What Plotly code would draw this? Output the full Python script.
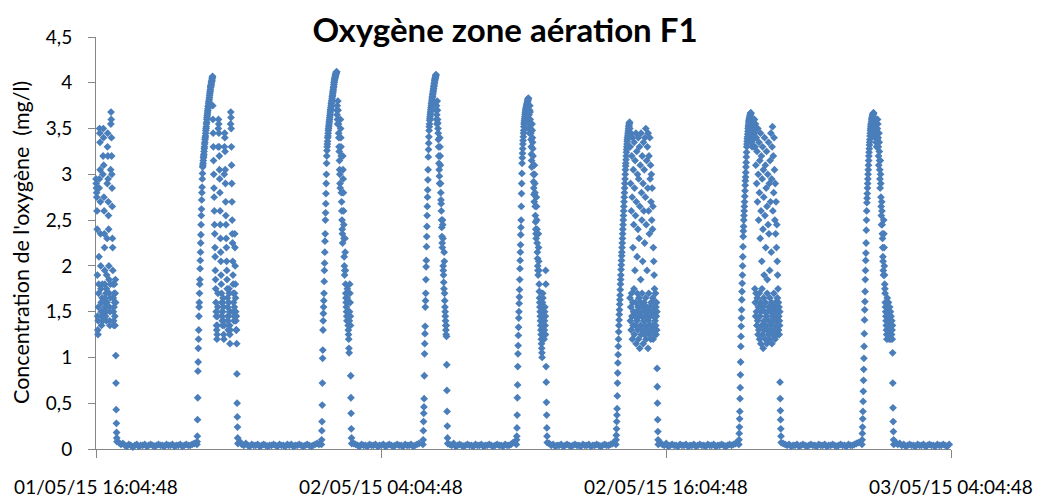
import pandas as pd
import plotly.graph_objects as go

# ---------------- data ----------------
start_time = pd.Timestamp("2015-05-01 16:04:48")
end_time = pd.Timestamp("2015-05-03 04:04:48")

x_tick_times = ["2015-05-01 16:04:48", "2015-05-02 04:04:48",
                "2015-05-02 16:04:48", "2015-05-03 04:04:48"]
x_tick_labels = ["01/05/15 16:04:48", "02/05/15 04:04:48",
                 "02/05/15 16:04:48", "03/05/15 04:04:48"]
y_tick_values = [0, 0.5, 1, 1.5, 2, 2.5, 3, 3.5, 4, 4.5]
y_tick_labels = ["0", "0,5", "1", "1,5", "2", "2,5", "3", "3,5", "4", "4,5"]

# start of each aeration phase (minutes after start_time); 30-second samples
aeration_start_min = [0, 255, 569.5, 826, 1062, 1313.5, 1624, 1935]
aeration_step_min = 0.5
idle_step_min = 5

c0 = [2.95, 2.9, 2.85, 2.8, 2.75, 2.6, 2.4, 1.9, 1.45, 1.3,
      1.25, 1.4, 1.55, 1.7, 1.8, 2.1, 2.85, 2.95, 3.5, 3.45,
      3.35, 3.05, 2.7, 2.35, 2.0, 1.75, 1.6, 1.5, 1.35, 1.45,
      1.6, 1.65, 1.8, 1.5, 1.4, 3.0, 3.2, 3.5, 3.4, 3.1,
      2.75, 2.6, 2.35, 2.2, 1.95, 1.8, 1.65, 1.55, 1.45, 1.6,
      1.7, 1.5, 1.4, 1.75, 1.9, 1.6, 2.3, 2.9, 3.3, 3.45,
      3.2, 2.95, 2.7, 2.55, 2.4, 2.0, 1.85, 1.7, 1.55, 1.4,
      1.35, 1.5, 1.65, 1.8, 3.05, 3.55, 3.68, 3.6, 3.4, 3.2,
      3.0, 2.85, 2.65, 2.3, 2.2, 1.95, 1.8, 1.65, 1.5, 1.4,
      1.35, 1.55, 1.7, 1.8, 1.6, 1.45, 1.35, 1.7, 1.85, 1.6,
      1.02, 0.72, 0.43, 0.28, 0.18, 0.12, 0.08]
c1 = [0.05, 0.08, 0.14, 0.32, 0.56, 0.85, 0.95, 1.1, 1.2, 1.3,
      1.45, 1.55, 1.6, 1.7, 1.8, 1.85, 1.97, 2.06, 2.15, 2.25,
      2.34, 2.45, 2.55, 2.62, 2.72, 2.8, 2.86, 2.95, 3.01, 3.08,
      3.1, 3.12, 3.15, 3.18, 3.2, 3.22, 3.25, 3.28, 3.3, 3.33,
      3.35, 3.38, 3.4, 3.42, 3.45, 3.48, 3.5, 3.52, 3.55, 3.57,
      3.6, 3.62, 3.64, 3.66, 3.68, 3.7, 3.72, 3.74, 3.75, 3.77,
      3.79, 3.8, 3.82, 3.84, 3.86, 3.88, 3.9, 3.91, 3.93, 3.95,
      3.96, 3.97, 3.98, 4.0, 4.01, 4.02, 4.03, 4.05, 4.06, 4.07,
      3.75, 3.6, 3.45, 3.3, 3.15, 3.0, 2.85, 2.75, 2.6, 2.45,
      2.35, 2.2, 2.1, 1.95, 1.85, 1.75, 1.6, 1.5, 1.45, 1.35,
      1.3, 1.2, 1.25, 1.35, 1.45, 1.55, 1.7, 3.3, 3.5, 3.6,
      3.55, 3.45, 3.3, 3.2, 3.05, 2.95, 2.8, 2.6, 2.45, 2.3,
      2.15, 2.05, 1.9, 1.8, 1.7, 1.6, 1.5, 1.45, 1.4, 1.35,
      1.5, 1.6, 1.65, 1.55, 1.4, 1.25, 1.2, 1.35, 3.0, 3.3,
      3.45, 3.4, 3.25, 3.05, 2.9, 2.7, 2.55, 2.45, 2.3, 2.2,
      2.05, 1.95, 1.85, 1.75, 1.65, 1.55, 1.45, 1.4, 1.3, 1.35,
      1.45, 1.6, 1.75, 1.7, 1.5, 1.35, 1.25, 1.15, 1.3, 1.5,
      3.55, 3.68, 3.62, 3.5, 3.3, 3.1, 2.9, 2.7, 2.5, 2.35,
      2.25, 2.05, 1.9, 1.8, 1.7, 1.6, 1.5, 1.4, 1.45, 1.55,
      1.7, 2.35, 2.2, 2.0, 1.8, 1.65, 1.5, 1.4, 1.3, 1.45,
      1.3, 1.15, 0.82, 0.5, 0.35, 0.24, 0.12, 0.06]
c2 = [0.05, 0.1, 0.2, 0.3, 0.48, 0.72, 0.99, 1.08, 1.3, 1.4,
      1.48, 1.55, 1.62, 1.7, 1.83, 1.95, 2.03, 2.15, 2.27, 2.35,
      2.5, 2.58, 2.68, 2.79, 2.9, 3.0, 3.12, 3.2,
      3.26, 3.3, 3.33, 3.36, 3.4, 3.42, 3.45, 3.48, 3.5, 3.52,
      3.54, 3.56, 3.58, 3.6, 3.62, 3.64, 3.66, 3.68, 3.7, 3.71,
      3.73, 3.75, 3.77, 3.78, 3.8, 3.81, 3.83, 3.85, 3.86, 3.88,
      3.9, 3.91, 3.93, 3.95, 3.96, 3.98, 4.0, 4.01, 4.03, 4.04,
      4.05, 4.06, 4.07, 4.08, 4.09, 4.1, 4.1, 4.11, 4.12, 4.12,
      3.7, 3.65, 3.75, 3.6, 3.55,
      3.8, 3.7, 3.6, 3.55, 3.45, 3.4, 3.3, 3.25, 3.15, 3.05,
      3.0, 2.9, 2.85, 3.6, 3.5, 3.4, 3.3, 3.2, 2.8, 2.7,
      2.6, 2.5, 2.4, 2.35, 2.25, 3.2, 3.05, 2.95, 2.8, 2.6,
      2.45, 2.3, 2.1, 2.0, 1.9, 1.95, 2.3, 2.15, 1.95, 1.8,
      1.7, 1.65, 1.6, 1.55, 1.5, 1.45, 1.4, 1.65, 1.75, 1.6,
      1.5, 1.4, 1.35, 1.3, 1.25, 1.2, 1.1, 1.05, 1.4, 1.5,
      1.8, 1.7, 1.6, 1.45, 1.35,
      0.8, 0.56, 0.39, 0.22, 0.12, 0.06]
c3 = [0.05, 0.1, 0.2, 0.3, 0.39, 0.46, 0.55, 0.8, 1.04, 1.15,
      1.26, 1.34, 1.55, 1.62, 1.7, 1.85, 1.99, 2.06, 2.21, 2.32,
      2.43, 2.55, 2.65, 2.75, 2.83, 2.94, 3.05, 3.19, 3.27, 3.34,
      3.41, 3.48,
      3.52, 3.55, 3.59, 3.61, 3.63, 3.65, 3.67, 3.69, 3.71, 3.73,
      3.75, 3.77, 3.78, 3.8, 3.82, 3.84, 3.85, 3.87, 3.88, 3.9,
      3.91, 3.93, 3.94, 3.96, 3.97, 3.99, 4.0, 4.02, 4.03, 4.04,
      4.05, 4.06, 4.07, 4.08, 4.09, 3.7, 3.6, 3.75, 3.65, 3.55,
      3.8, 3.7, 3.6, 3.56, 3.5, 3.45, 3.38, 3.3, 3.2, 3.12,
      3.05, 2.98, 2.9, 3.4, 3.3, 3.2, 3.1, 2.9, 2.8, 2.72,
      2.68, 2.6, 2.5, 2.42, 2.32, 2.25, 2.2, 2.5, 2.45, 2.3,
      2.0, 1.95, 1.9, 1.82, 1.75, 2.15, 2.05, 1.7, 1.62, 1.55,
      1.5, 1.45, 1.4, 1.35, 1.3, 1.25, 1.35, 1.23,
      0.92, 0.64, 0.41, 0.25, 0.12, 0.06]
c4 = [0.05, 0.1, 0.14, 0.23, 0.37, 0.56, 0.7, 0.9, 1.04, 1.13,
      1.24, 1.33, 1.43, 1.5, 1.59, 1.66, 1.74, 1.85, 1.97, 2.06,
      2.15, 2.23, 2.34, 2.42, 2.5, 2.65, 2.79, 2.9, 3.01, 3.12,
      3.18, 3.23, 3.28, 3.33, 3.37, 3.41, 3.45, 3.48, 3.52, 3.55,
      3.57, 3.59, 3.61, 3.63, 3.65, 3.67, 3.68, 3.7, 3.71, 3.72,
      3.73, 3.74, 3.75, 3.76, 3.77, 3.78, 3.79, 3.8, 3.81, 3.82,
      3.83, 3.83, 3.6, 3.5, 3.65, 3.55, 3.45, 3.7,
      3.75, 3.68, 3.6, 3.55, 3.5, 3.45, 3.38, 3.3, 3.22, 3.15,
      3.08, 3.55, 3.48, 3.4, 3.35, 3.28, 3.2, 3.1, 3.0, 2.92,
      2.85, 2.78, 2.7, 3.1, 3.0, 2.9, 2.8, 2.65, 2.55, 2.48,
      2.4, 2.35, 2.3, 2.75, 2.65, 2.5, 2.4, 2.25, 2.15, 2.08,
      2.0, 1.95, 1.9, 2.35, 2.2, 2.05, 1.95, 1.8, 1.72, 1.65,
      1.6, 1.55, 1.5, 1.45, 1.4, 1.35, 1.3, 1.25, 1.2, 1.15,
      1.1, 1.05, 1.0, 1.5, 1.6, 1.7, 1.65, 1.55, 1.45, 1.4,
      1.3, 1.25, 1.2, 1.3, 1.4, 1.5, 1.55, 1.35, 1.45, 1.25,
      1.95, 1.8,
      0.9, 0.73, 0.51, 0.37, 0.23, 0.14, 0.07]
c5 = [0.05, 0.1, 0.15, 0.22, 0.3, 0.37, 0.44, 0.58, 0.72, 0.83,
      0.94, 1.03, 1.12, 1.2, 1.28, 1.35, 1.41, 1.47, 1.52, 1.58,
      1.63, 1.68, 1.74, 1.8, 1.85, 1.9, 1.96, 2.01, 2.06, 2.11,
      2.15, 2.2, 2.25, 2.3, 2.35, 2.4, 2.45, 2.5, 2.55, 2.6,
      2.65, 2.7, 2.75, 2.8, 2.85, 2.9, 2.95, 3.0, 3.05, 3.09,
      3.12, 3.16, 3.2, 3.24, 3.27, 3.3, 3.33, 3.36, 3.38, 3.4,
      3.42, 3.44, 3.46, 3.48, 3.5, 3.52, 3.53, 3.55, 3.56, 3.57,
      3.5, 1.65, 3.3, 1.4, 2.9, 1.55, 3.45, 1.3, 2.6, 1.7,
      3.2, 1.45, 2.75, 1.2, 3.4, 1.6, 2.2, 1.35, 3.05, 1.5,
      2.45, 1.75, 3.35, 1.25, 2.85, 1.45, 1.95, 3.15, 1.35, 2.55,
      1.6, 3.45, 1.15, 2.7, 1.5, 3.25, 1.4, 2.1, 1.7, 3.0,
      1.3, 2.4, 1.55, 3.4, 1.2, 2.95, 1.65, 2.3, 1.45, 3.3,
      1.1, 2.65, 1.5, 3.1, 1.35, 1.85, 1.6, 3.45, 1.25, 2.8,
      1.45, 2.5, 1.7, 3.2, 1.3, 2.05, 1.55, 2.9, 1.15, 3.35,
      1.4, 2.6, 1.6, 3.05, 1.25, 2.25, 1.5, 3.4, 1.35, 2.75,
      1.65, 3.5, 1.2, 2.45, 1.45, 3.15, 1.55, 1.95, 1.3, 3.3,
      1.5, 2.85, 1.1, 3.45, 1.4, 2.6, 1.7, 3.2, 1.25, 2.35,
      1.55, 3.4, 1.35, 2.95, 1.45, 3.1, 1.2, 2.7, 1.6, 3.0,
      1.3, 2.5, 1.5, 2.85, 1.35, 2.4, 1.65, 2.65, 1.2, 2.2,
      1.45, 2.05, 1.3, 1.9, 1.55, 1.75, 1.25, 1.6, 1.4, 1.5,
      1.7, 1.35, 1.55, 1.25, 1.45, 1.6, 1.3, 1.5,
      0.88, 0.68, 0.5, 0.32, 0.19, 0.1, 0.05]
c6 = [0.05, 0.1, 0.17, 0.24, 0.33, 0.41, 0.55, 0.67, 0.81, 0.95,
      1.12, 1.23, 1.34, 1.43, 1.52, 1.63, 1.72, 1.81, 1.9, 2.0,
      2.1, 2.21,
      2.32, 2.38, 2.43, 2.5, 2.55, 2.6, 2.65, 2.7, 2.76, 2.82,
      2.88, 2.93, 2.97, 3.02, 3.08, 3.13, 3.19, 3.24, 3.3, 3.33,
      3.36, 3.39, 3.41, 3.44, 3.47, 3.5, 3.52, 3.54, 3.56, 3.58,
      3.59, 3.6, 3.61, 3.62, 3.63, 3.64, 3.65, 3.66, 3.67, 3.67,
      3.4, 3.5, 3.35, 3.55, 3.45, 3.3, 3.6, 3.5, 3.4, 3.52,
      3.45, 3.38, 3.55, 3.48, 3.42, 3.3, 3.5, 3.6,
      3.45, 1.75, 3.3, 1.6, 3.55, 1.45, 3.1, 1.7, 3.4, 1.5,
      2.9, 1.35, 3.25, 1.65, 2.7, 1.4, 3.5, 1.25, 3.0, 1.55,
      2.5, 1.3, 3.35, 1.7, 2.8, 1.2, 3.15, 1.45, 2.3, 1.6,
      3.45, 1.15, 2.6, 1.5, 3.2, 1.35, 2.05, 1.75, 2.95, 1.25,
      3.3, 1.55, 2.4, 1.1, 3.05, 1.65, 2.75, 1.4, 1.9, 1.3,
      3.4, 1.5, 2.55, 1.2, 3.1, 1.6, 2.2, 1.35, 2.85, 1.45,
      3.25, 1.15, 2.65, 1.7, 1.85, 1.3, 3.0, 1.5, 2.45, 1.25,
      3.35, 1.55, 2.35, 1.4, 2.9, 1.2, 1.95, 1.65, 3.15, 1.3,
      2.7, 1.5, 3.45, 1.35, 2.15, 1.6, 2.95, 1.15, 3.3, 1.45,
      3.52, 1.25, 2.6, 1.55, 3.2, 1.4, 2.8, 1.7, 3.4, 1.3,
      3.05, 1.5, 2.5, 1.2, 2.9, 1.6, 2.35, 1.45, 2.7, 1.35,
      2.2, 1.55, 2.45, 1.25, 2.05, 1.65, 1.9, 1.4, 1.75, 1.5,
      1.6, 1.3, 1.45, 1.55, 1.25, 1.4, 1.35, 1.5,
      0.73, 0.55, 0.42, 0.32, 0.22, 0.14, 0.07]
c7 = [0.05, 0.1, 0.17, 0.24, 0.33, 0.41, 0.52, 0.63, 0.75, 0.87,
      0.99, 1.12, 1.26, 1.41, 1.52, 1.61, 1.72, 1.85, 1.95, 2.06,
      2.14, 2.25, 2.39, 2.5, 2.6,
      2.69, 2.74, 2.79, 2.85, 2.9, 2.95, 3.0, 3.05, 3.1, 3.15,
      3.2, 3.24, 3.28, 3.32, 3.35, 3.38, 3.42, 3.45, 3.48, 3.5,
      3.52, 3.54, 3.55, 3.56, 3.58, 3.6, 3.61, 3.62, 3.63, 3.64,
      3.65, 3.66, 3.66, 3.67, 3.67, 3.6, 3.55, 3.62, 3.5, 3.58,
      3.45, 3.52, 3.4, 3.55, 3.6, 3.48, 3.35, 3.5, 3.42, 3.3,
      3.55, 3.45, 3.38, 3.5, 3.6,
      3.55, 3.45, 3.4, 3.3, 3.2, 3.1, 3.45, 3.35, 3.25, 3.15,
      3.05, 2.95, 2.85, 3.15, 3.0, 2.9, 2.75, 2.65, 2.55, 2.45,
      2.7, 2.6, 2.45, 2.35, 2.3, 2.2, 2.1, 2.05, 1.95, 1.9,
      2.5, 2.35, 2.2, 2.0, 1.9, 1.8, 1.75, 1.7, 1.6, 1.55,
      1.5, 1.45, 1.4, 1.35, 1.3, 1.25, 1.2, 1.55, 1.65, 1.6,
      1.5, 1.4, 1.3, 1.45, 1.6, 1.5, 1.35, 1.25, 1.2, 1.45,
      1.55, 1.4, 1.3, 1.35, 1.5, 1.25, 1.2, 1.45, 1.3, 1.35,
      1.25, 1.4, 1.3, 1.2, 1.35,
      1.05, 0.72, 0.45, 0.3, 0.19, 0.1, 0.05]

# idle (non-aerated) phases after each aeration phase; 5-minute samples
b0 = [0.07, 0.05, 0.06, 0.04, 0.03, 0.05, 0.04, 0.02, 0.04, 0.05, 0.03, 0.04, 0.04, 0.05,
      0.03, 0.04, 0.05, 0.04, 0.03, 0.04, 0.05, 0.04, 0.04, 0.03, 0.05, 0.04, 0.04, 0.05,
      0.03, 0.04, 0.04, 0.05, 0.03, 0.04, 0.05, 0.04, 0.04, 0.05, 0.06]
b1 = [0.08, 0.05, 0.04, 0.06, 0.04, 0.03, 0.05, 0.04, 0.04, 0.05, 0.03, 0.04, 0.05, 0.04,
      0.03, 0.04, 0.04, 0.05, 0.04, 0.03, 0.05, 0.04, 0.04, 0.03, 0.05, 0.04, 0.05, 0.03,
      0.04, 0.04, 0.05, 0.04, 0.03, 0.04, 0.05, 0.04, 0.03, 0.04, 0.05, 0.06, 0.05]
b2 = [0.06, 0.05, 0.04, 0.03, 0.05, 0.04, 0.04, 0.03, 0.05, 0.04, 0.04, 0.05, 0.03, 0.04,
      0.04, 0.05, 0.03, 0.04, 0.05, 0.04, 0.03, 0.04, 0.05, 0.04, 0.04, 0.03, 0.05, 0.04,
      0.04, 0.05, 0.03, 0.04, 0.05, 0.06]
b3 = [0.05, 0.04, 0.06, 0.03, 0.04, 0.05, 0.04, 0.03, 0.04, 0.05, 0.04, 0.04, 0.03, 0.05,
      0.04, 0.04, 0.05, 0.03, 0.04, 0.04, 0.05, 0.04, 0.03, 0.04, 0.05, 0.04, 0.04, 0.03,
      0.05, 0.04, 0.04, 0.05, 0.07]
b4 = [0.06, 0.04, 0.05, 0.03, 0.04, 0.04, 0.05, 0.03, 0.04, 0.05, 0.04, 0.03, 0.04, 0.05,
      0.04, 0.04, 0.03, 0.05, 0.04, 0.04, 0.05, 0.03, 0.04, 0.04, 0.05, 0.04, 0.03, 0.04,
      0.05, 0.04, 0.04, 0.05, 0.06]
b5 = [0.07, 0.05, 0.04, 0.06, 0.03, 0.04, 0.05, 0.04, 0.04, 0.03, 0.05, 0.04, 0.04, 0.05,
      0.03, 0.04, 0.04, 0.05, 0.03, 0.04, 0.05, 0.04, 0.04, 0.03, 0.05, 0.04, 0.04, 0.05,
      0.03, 0.04, 0.04, 0.05, 0.04, 0.03, 0.04, 0.05, 0.04, 0.05, 0.06]
b6 = [0.06, 0.05, 0.04, 0.05, 0.03, 0.04, 0.04, 0.05, 0.03, 0.04, 0.05, 0.04, 0.03, 0.04,
      0.05, 0.04, 0.04, 0.03, 0.05, 0.04, 0.04, 0.05, 0.03, 0.04, 0.04, 0.05, 0.04, 0.03,
      0.04, 0.05, 0.04, 0.04, 0.03, 0.05, 0.04, 0.04, 0.05, 0.06, 0.07]
b7 = [0.07, 0.05, 0.06, 0.04, 0.05, 0.03, 0.04, 0.05, 0.04, 0.04, 0.03, 0.05, 0.04, 0.04,
      0.05, 0.03, 0.04, 0.05, 0.04, 0.04, 0.03, 0.05, 0.04, 0.04, 0.05, 0.04, 0.03, 0.05]

aeration_values = [c0, c1, c2, c3, c4, c5, c6, c7]
idle_values = [b0, b1, b2, b3, b4, b5, b6, b7]

# ---------------- assemble the time series ----------------
minutes, oxygen = [], []
for t0, act, idle in zip(aeration_start_min, aeration_values, idle_values):
    t_act = [t0 + aeration_step_min * i for i in range(len(act))]
    minutes += t_act
    oxygen += act
    t_end = t_act[-1]
    minutes += [t_end + idle_step_min * (j + 1) for j in range(len(idle))]
    oxygen += idle

times = start_time + pd.to_timedelta(minutes, unit="m")

# ---------------- figure ----------------
# the page body has an 8px margin, so the figure is sized to fit 1042x499 from (8, 8)
blue = "#4A7EBB"
axis_grey = "#868686"
font_family = "Lato, 'Open Sans', sans-serif"

fig = go.Figure(
    go.Scatter(
        x=times,
        y=oxygen,
        mode="markers",
        marker=dict(symbol="diamond", size=6, color=blue, line=dict(width=0)),
        cliponaxis=False,
        hoverinfo="x+y",
    )
)

fig.update_layout(
    width=1034,
    height=491,
    margin=dict(l=88, r=91, t=29, b=50, autoexpand=False),
    paper_bgcolor="white",
    plot_bgcolor="white",
    showlegend=False,
    separators=", ",
    font=dict(family=font_family, size=19, color="black"),
    title=dict(
        text="<b>Oxygène zone aération F1</b>",
        font=dict(family=font_family, size=33, color="black"),
        x=(505 - 96) / 855,
        xref="paper",
        xanchor="center",
        y=1 - 11 / 491,
        yref="container",
        yanchor="top",
    ),
    xaxis=dict(
        type="date",
        range=[start_time, end_time],
        tickvals=x_tick_times,
        ticktext=x_tick_labels,
        ticks="outside",
        ticklen=8,
        tickcolor=axis_grey,
        showline=True,
        linecolor=axis_grey,
        linewidth=1,
        showgrid=False,
        zeroline=False,
        automargin=False,
        tickfont=dict(size=19, color="black"),
        ticklabelstandoff=13,
        layer="below traces",
    ),
    yaxis=dict(
        range=[0, 4.5],
        tickvals=y_tick_values,
        ticktext=y_tick_labels,
        ticks="outside",
        ticklen=7,
        tickcolor=axis_grey,
        showline=True,
        linecolor=axis_grey,
        linewidth=1,
        showgrid=False,
        zeroline=False,
        automargin=False,
        tickfont=dict(size=19, color="black"),
        ticklabelstandoff=12,
        layer="below traces",
    ),
    annotations=[
        dict(
            text="Concentration de l'oxygène\u00a0 (mg/l)",
            xref="paper",
            yref="paper",
            x=(21 - 96) / 855,
            y=0.5,
            xanchor="center",
            yanchor="middle",
            textangle=-90,
            showarrow=False,
            font=dict(family=font_family, size=21.5, color="black"),
        )
    ],
)

fig.write_html("out.html")
